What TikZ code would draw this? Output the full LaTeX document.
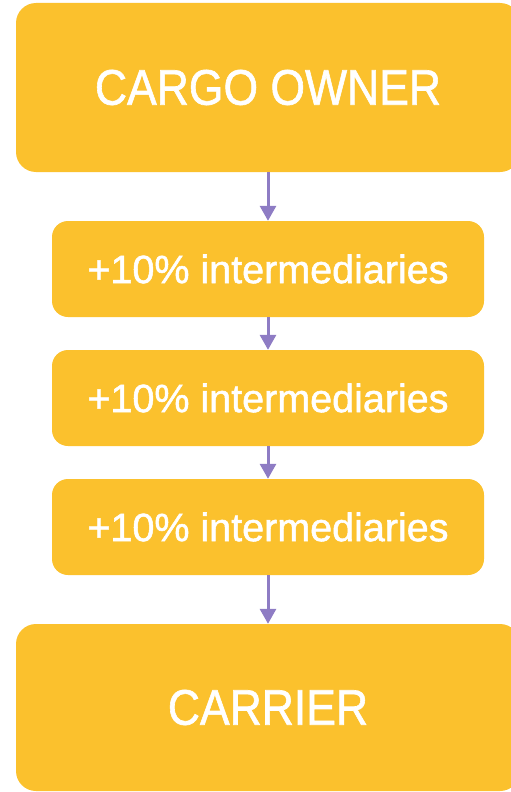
\documentclass[tikz,border=0pt]{standalone}
\usepackage{fontspec}
\setmainfont{Liberation Sans}
\newfontfamily\heavyfont[FakeBold=1.3]{Liberation Sans}
\usetikzlibrary{arrows.meta}
\definecolor{boxyellow}{RGB}{251,193,45}
\definecolor{arrowpurple}{RGB}{142,124,196}
\begin{document}
\begin{tikzpicture}[x=1pt,y=1pt,
	bigbox/.style={fill=boxyellow, rounded corners=20pt, minimum width=504pt, text=white, inner sep=0pt, font=\heavyfont\fontsize{50}{52}\selectfont},
	midbox/.style={fill=boxyellow, rounded corners=16pt, minimum width=432pt, minimum height=96pt, text=white, inner sep=0pt, font=\heavyfont\fontsize{39.5}{42}\selectfont},
	flow/.style={-{Triangle[length=15pt,width=16pt]}, draw=arrowpurple, fill=arrowpurple, line width=3pt}]
			\useasboundingbox (0,0) rectangle (511,-792);
			\node[bigbox, minimum height=169pt] (owner) at (268,-87.5) {\scalebox{0.89}[1]{CARGO OWNER}};
			\node[midbox] (inter1) at (268,-269) {+10\% intermediaries};
			\node[midbox] (inter2) at (268,-398) {+10\% intermediaries};
			\node[midbox] (inter3) at (268,-527) {+10\% intermediaries};
			\node[bigbox, minimum height=167pt] (carrier) at (268,-707.5) {\scalebox{0.89}[1]{CARRIER}};
			\draw[flow] (owner) -- (inter1);
			\draw[flow] (inter1) -- (inter2);
			\draw[flow] (inter2) -- (inter3);
			\draw[flow] (inter3) -- (carrier);
		
		\end{tikzpicture}
\end{document}
